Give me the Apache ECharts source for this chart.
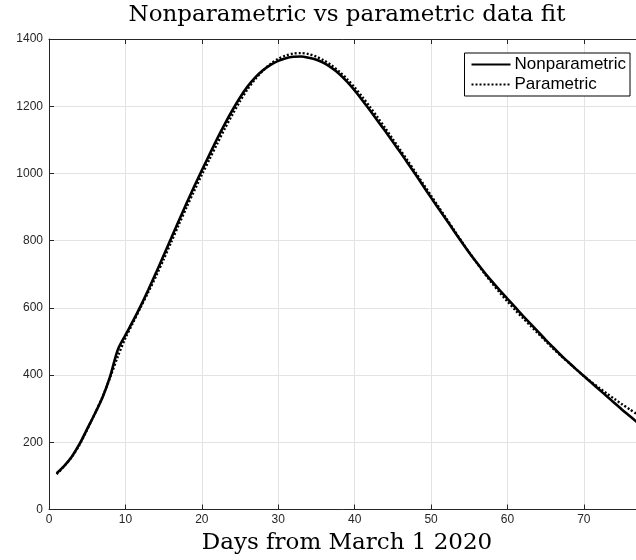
<!DOCTYPE html>
<html>
<head>
<meta charset="utf-8">
<script src="https://cdn.jsdelivr.net/npm/echarts@6/dist/echarts.min.js"></script>
<style>
html,body{margin:0;padding:0;background:#fff;}
#chart{width:636px;height:560px;}
</style>
</head>
<body>
<div id="chart"></div>
<script>
const days = [1,2,3,4,5,6,7,8,9,10,11,12,13,14,15,16,17,18,19,20,21,22,23,24,25,26,27,28,29,30,31,32,33,34,35,36,37,38,39,40,41,42,43,44,45,46,47,48,49,50,51,52,53,54,55,56,57,58,59,60,61,62,63,64,65,66,67,68,69,70,71,72,73,74,75,76,77];
const nonparametric = [108,130,158,195,240,285,333,396,475,519,561,606,654,704,756,808,860,911,961,1009,1056,1103,1147,1188,1226,1259,1286,1307,1323,1335,1343,1347,1348,1344,1338,1328,1314,1296,1273,1247,1218,1188,1157,1126,1094,1062,1029,996,962,928,895,862,829,796,764,734,705,678,652,627,602,577,553,529,505,482,459,438,417,397,377,357,337,317,297,278,259];
const parametric = [105,129,157,193,238,285,335,393,455,510,556,602,647,694,744,796,848,899,948,996,1042,1088,1133,1175,1215,1251,1281,1306,1326,1341,1351,1357,1358,1355,1347,1336,1321,1303,1281,1256,1228,1198,1167,1135,1102,1069,1036,1002,968,934,900,866,832,798,765,733,702,673,645,619,594,570,547,524,501,478,457,437,417,397,379,362,345,329,313,298,283];
const xTicks = [0,10,20,30,40,50,60,70];
const yTicks = [0,200,400,600,800,1000,1200,1400];
const seriesNames = ['Nonparametric','Parametric'];
const titleText = 'Nonparametric vs parametric data fit';
const xLabel = 'Days from March 1 2020';

const chart = echarts.init(document.getElementById('chart'), null, {renderer:'canvas'});
const pair = (xs, ys) => xs.map((x,i)=>[x, ys[i]]);
const axisCol = '#262626';
const gridCol = '#e3e3e3';
const serif = 'DejaVu Serif';
chart.setOption({
  animation:false,
  backgroundColor:'#fff',
  graphic:[{type:'text',x:347,y:4,
    style:{text:titleText,font:'normal 23px "'+serif+'"',fill:'#000',textAlign:'center',textVerticalAlign:'top'}}],
  legend:{
    data:seriesNames, orient:'vertical', right:6, top:53,
    backgroundColor:'#fff', borderColor:'#000', borderWidth:1, borderRadius:0,
    padding:[2,4,2,6], itemGap:1, itemWidth:39, itemHeight:14,
    itemStyle:{opacity:0,borderWidth:0},
    textStyle:{fontFamily:'Liberation Sans',fontSize:17,lineHeight:19,color:'#000',padding:[0,0,0,-1]}
  },
  grid:{left:49,top:39,width:596,height:470.5,containLabel:false,outerBoundsMode:'none'},
  xAxis:[{
    type:'value',min:0,max:78,interval:10,
    name:xLabel,nameLocation:'middle',nameGap:22,
    nameTextStyle:{fontFamily:serif,fontSize:23,color:'#000'},
    axisLine:{show:true,lineStyle:{color:axisCol,width:1}},
    axisTick:{show:true,inside:true,length:5,lineStyle:{color:axisCol}},
    axisLabel:{showMaxLabel:false,fontFamily:'Liberation Sans',fontSize:12,color:axisCol,margin:4,
      formatter:v=>xTicks.includes(v)?String(v):''},
    splitLine:{show:true,lineStyle:{color:gridCol,width:1}}
  },{
    type:'value',min:0,max:78,interval:10,position:'top',
    axisLine:{show:true,lineStyle:{color:axisCol,width:1}},
    axisTick:{show:true,inside:true,length:5,lineStyle:{color:axisCol}},
    axisLabel:{show:false},splitLine:{show:false}
  }],
  yAxis:{
    type:'value',min:0,max:1400,interval:200,
    axisLine:{show:true,lineStyle:{color:axisCol,width:1}},
    axisTick:{show:true,inside:true,length:5,lineStyle:{color:axisCol}},
    axisLabel:{fontFamily:'Liberation Sans',fontSize:12,color:axisCol,margin:6,
      formatter:v=>yTicks.includes(v)?String(v):''},
    splitLine:{show:true,lineStyle:{color:gridCol,width:1}}
  },
  series:[
    {name:seriesNames[0],type:'line',data:pair(days,nonparametric),smooth:0.3,
      showSymbol:false,symbol:'none',color:'#000',
      lineStyle:{color:'#000',width:2.6,type:'solid'}},
    {name:seriesNames[1],type:'line',data:pair(days,parametric),smooth:0.3,
      showSymbol:false,symbol:'none',color:'#000',
      lineStyle:{color:'#000',width:2.4,type:[2,2]}}
  ]
});
</script>
</body>
</html>
